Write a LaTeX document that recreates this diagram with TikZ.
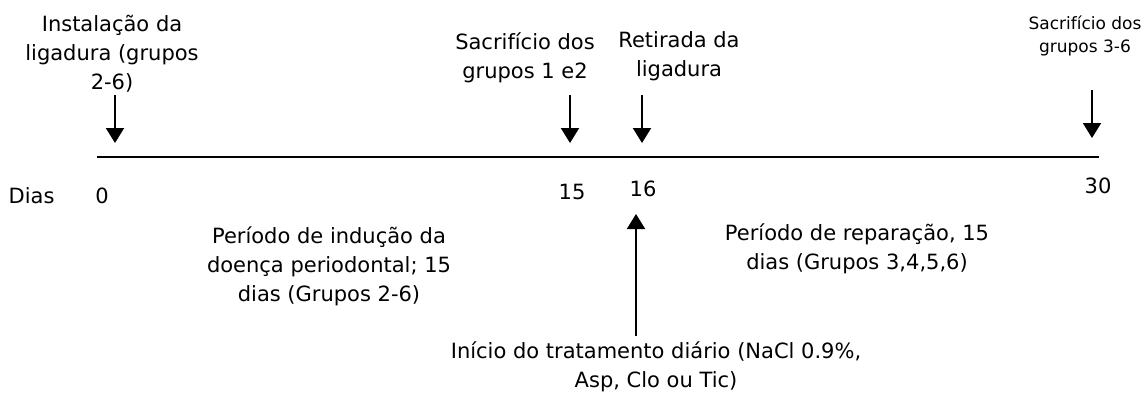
\documentclass[tikz,border=0pt]{standalone}
\usepackage{fontspec}
\setmainfont{DejaVu Sans}
\usetikzlibrary{arrows.meta,positioning}

\begin{document}
\begin{tikzpicture}[x=0.5pt,y=-0.5pt]
\tikzstyle{event}=[align=center, inner sep=0pt, font=\fontsize{10.5}{14.5}\selectfont]
\tikzstyle{small event}=[event, font=\fontsize{8.5}{11.5}\selectfont]
\tikzstyle{day}=[inner sep=0pt, font=\fontsize{10.5}{13}\selectfont]
\tikzstyle{pointer}=[line width=1pt, -{Triangle[width=9pt,length=7.5pt]}]
\useasboundingbox (0,0) rectangle (1146,396);

% linha do tempo
\coordinate (start) at (97,157);
\coordinate (end) at (1099,157);
\draw[line width=1.3pt] (start) -- (end);

\node[day] (0) at (102,196) {0};
\node[day] (dias) [left=20pt of 0] {Dias};
\node[day] (15) at (572,192) {15};
\node[day] (16) at (643,189) {16};
\node[day] (30) at (1098,186) {30};

\node[event] (1) at (112,54) {Instalação da\\ligadura (grupos\\2-6)};
\node[event] (2) at (525,58) {Sacrifício dos\\grupos 1 e2};
\node[event] (3) at (679,56) {Retirada da\\ligadura};
\node[small event] (4) at (1085,36) {Sacrifício dos\\grupos 3-6};
\node[event] (5) at (329,266) {Período de indução da\\doença periodontal; 15\\dias (Grupos 2-6)};
\node[event] (6) at (857,249) {Período de reparação, 15\\dias (Grupos 3,4,5,6)};
\node[event] (7) at (656,367) {Início do tratamento diário (NaCl 0.9\%,\\Asp, Clo ou Tic)};

\coordinate (a1) at (115,95);
\coordinate (b1) at (115,143);
\coordinate (a2) at (570,95);
\coordinate (b2) at (570,143);
\coordinate (a3) at (642,95);
\coordinate (b3) at (642,143);
\coordinate (a4) at (1092,90);
\coordinate (b4) at (1092,138);
\coordinate (a7) at (636,336);
\coordinate (b7) at (636,214);

\draw[pointer] (a1) -- (b1);
\draw[pointer] (a2) -- (b2);
\draw[pointer] (a3) -- (b3);
\draw[pointer] (a4) -- (b4);
\draw[pointer] (a7) -- (b7);

\end{tikzpicture}
\end{document}
